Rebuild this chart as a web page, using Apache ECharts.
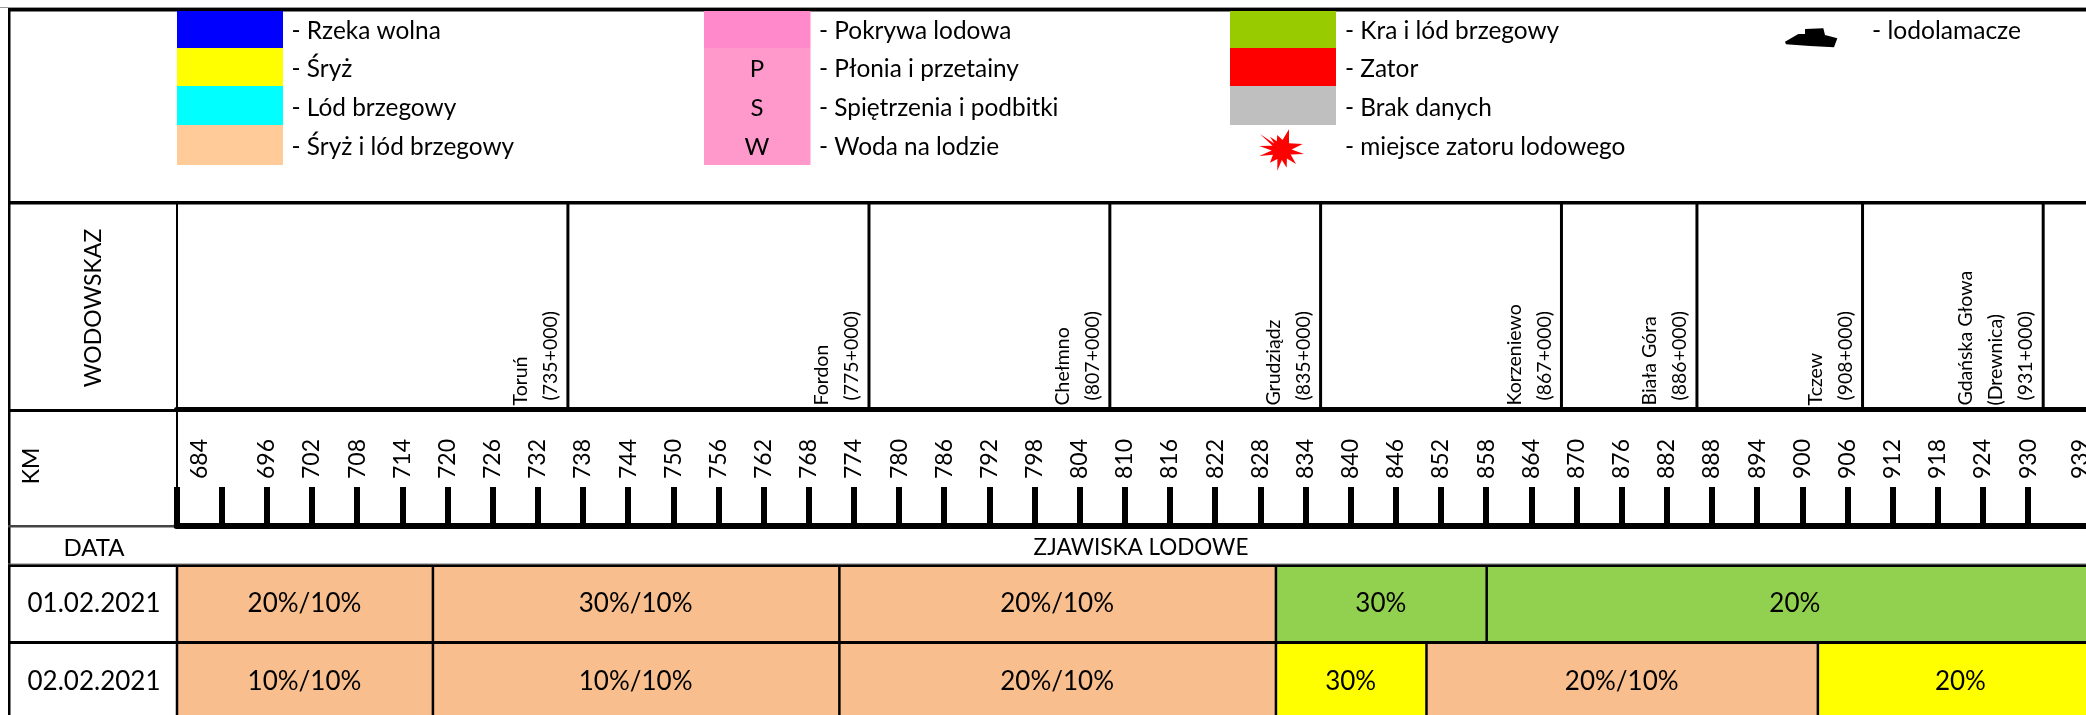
<!DOCTYPE html>
<html>
<head>
<meta charset="utf-8">
<title>Zjawiska lodowe</title>
<style>
html, body { margin: 0; padding: 0; background: #fff; }
#chart { width: 2086px; height: 715px; }
</style>
</head>
<body>
<div id="chart"></div>
<script src="https://cdn.jsdelivr.net/npm/echarts@6/dist/echarts.min.js"></script>
<script>
var FONT = 'Lato';

// km of the river, ticks and their printed labels
var tickKm = [684, 690, 696, 702, 708, 714, 720, 726, 732, 738, 744, 750, 756, 762, 768, 774, 780, 786, 792, 798, 804,
    810, 816, 822, 828, 834, 840, 846, 852, 858, 864, 870, 876, 882, 888, 894, 900, 906, 912, 918, 924, 930];
var labelKm = [687, 696, 702, 708, 714, 720, 726, 732, 738, 744, 750, 756, 762, 768, 774, 780, 786, 792, 798, 804,
    810, 816, 822, 828, 834, 840, 846, 852, 858, 864, 870, 876, 882, 888, 894, 900, 906, 912, 918, 924, 930, 937];
var labelText = ['684', '696', '702', '708', '714', '720', '726', '732', '738', '744', '750', '756', '762', '768', '774',
    '780', '786', '792', '798', '804', '810', '816', '822', '828', '834', '840', '846', '852', '858', '864', '870', '876',
    '882', '888', '894', '900', '906', '912', '918', '924', '930', '939'];

// gauges
var stationKm = [736, 776, 808, 836, 868, 886, 908, 932];
var stationText = ['Toruń\n (735+000)', 'Fordon\n (775+000)', 'Chełmno\n (807+000)', 'Grudziądz\n (835+000)',
    'Korzeniewo\n (867+000)', 'Biała Góra\n (886+000)', 'Tczew\n (908+000)', 'Gdańska Głowa\n(Drewnica)\n (931+000)'];

// ice phenomena per day
var dates = ['01.02.2021', '02.02.2021'];
var dayOneEdges = [684, 718, 772, 830, 858, 940];
var dayOneTypes = ['mixed', 'mixed', 'mixed', 'floe', 'floe'];
var dayOneText = ['20%/10%', '30%/10%', '20%/10%', '30%', '20%'];
var dayTwoEdges = [684, 718, 772, 830, 850, 902, 940];
var dayTwoTypes = ['mixed', 'mixed', 'mixed', 'frazil', 'mixed', 'frazil'];
var dayTwoText = ['10%/10%', '10%/10%', '20%/10%', '30%', '20%/10%', '20%'];
var typeColors = { mixed: '#F8BE8D', floe: '#92D050', frazil: '#FFFF00' };

// legend
var legendOneText = ['- Rzeka wolna', '- Śryż', '- Lód brzegowy', '- Śryż i lód brzegowy'];
var legendOneColors = ['#0000FF', '#FFFF00', '#00FFFF', '#FFCC99'];
var legendTwoText = ['- Pokrywa lodowa', '- Płonia i przetainy', '- Spiętrzenia i podbitki', '- Woda na lodzie'];
var legendTwoColors = ['#FF89CA', '#FF99CC', '#FF99CC', '#FF99CC'];
var legendTwoMarks = ['', 'P', 'S', 'W'];
var legendThreeText = ['- Kra i lód brzegowy', '- Zator', '- Brak danych', '- miejsce zatoru lodowego'];
var legendThreeColors = ['#99CC00', '#FF0000', '#BFBFBF'];

var X_LEFT = 176.5;
var X_WIDTH = 1926.9; // runs past the right edge of the page, as in the source
var legendTop = [11, 48, 86, 125, 165];
var legendTextY = [31, 69, 108, 147];

function rect(x, y, w, h, fill) {
    return { type: 'rect', shape: { x: x, y: y, width: w, height: h }, style: { fill: fill }, z: 100 };
}
function label(text, x, y, size, rotated, align) {
    return {
        type: 'text', x: x, y: y, rotation: rotated ? Math.PI / 2 : 0, z: 101,
        style: { text: text, fill: '#000', font: size + 'px ' + FONT, textAlign: align || 'center', textVerticalAlign: 'middle' }
    };
}

var star = [[207, 28], [248, 72], [252, 102], [228, 132], [200, 143], [172, 152], [150, 128], [118, 108], [118, 78], [120, 42], [150, 50], [172, 45]];
function starPoints() {
    var cx = 1281.7, cy = 150, pts = [];
    for (var i = 0; i < star.length; i++) {
        var tip = [1220 + star[i][0] / 3, 120 + star[i][1] / 3];
        var next = [1220 + star[(i + 1) % star.length][0] / 3, 120 + star[(i + 1) % star.length][1] / 3];
        pts.push(tip);
        var a = Math.atan2(tip[1] + next[1] - 2 * cy, tip[0] + next[0] - 2 * cx);
        pts.push([cx + 10 * Math.cos(a), cy + 10 * Math.sin(a)]);
    }
    return pts;
}
var ship = [[75, 95], [115, 72], [135, 72], [135, 57], [190, 55], [195, 75], [232, 85], [222, 112], [150, 108], [78, 103]];
function shipPoints() {
    return ship.map(function (p) { return [1760 + p[0] / 3, 10 + p[1] / 3]; });
}

function frame() {
    var els = [
        rect(0, 7, 2086, 1, '#999'),
        rect(8, 8, 2078, 3.5, '#000'),
        rect(8, 8, 2.5, 707, '#000'),
        rect(8, 201, 2078, 3.5, '#000'),
        rect(8, 409, 170, 3, '#000'),
        rect(8, 525, 166, 2.5, '#444'),
        rect(8, 563.5, 2078, 1.2, '#777'),
        rect(8, 564.5, 2078, 2.5, '#000'),
        rect(8, 641, 2078, 3, '#000'),
        rect(176, 204, 2, 323, '#000'),
        label('WODOWSKAZ', 94, 308, 23, true),
        label('KM', 32, 466, 23, true),
        label('DATA', 94, 548, 24),
        label('ZJAWISKA LODOWE', 1141, 548, 22.5)
    ];
    var i;
    for (i = 0; i < 4; i++) {
        els.push(rect(177, legendTop[i], 106, legendTop[i + 1] - legendTop[i], legendOneColors[i]));
        els.push(label(legendOneText[i], 291.5, legendTextY[i], 24.4, false, 'left'));
        els.push(rect(704, legendTop[i], 106.5, legendTop[i + 1] - legendTop[i], legendTwoColors[i]));
        els.push(label(legendTwoMarks[i], 757, legendTextY[i], 24));
        els.push(label(legendTwoText[i], 819, legendTextY[i], 24.4, false, 'left'));
        if (i < 3) els.push(rect(1230, legendTop[i], 106, legendTop[i + 1] - legendTop[i], legendThreeColors[i]));
        els.push(label(legendThreeText[i], 1345, legendTextY[i], 24.4, false, 'left'));
    }
    els.push({ type: 'polygon', shape: { points: starPoints() }, style: { fill: '#FF0000' }, z: 100 });
    els.push({ type: 'polygon', shape: { points: shipPoints() }, style: { fill: '#000' }, z: 100 });
    els.push(label('- lodolamacze', 1872, 31, 24.6, false, 'left'));
    return els;
}

function segments(row, edges, types, texts) {
    var out = [];
    for (var i = 0; i < types.length; i++) {
        out.push({ value: [edges[i], edges[i + 1], row], type: types[i], text: texts[i] });
    }
    return out;
}
var iceData = segments(0, dayOneEdges, dayOneTypes, dayOneText).concat(segments(1, dayTwoEdges, dayTwoTypes, dayTwoText));

function renderIce(params, api) {
    var item = iceData[params.dataIndex];
    var a = api.coord([api.value(0), api.value(2)]);
    var b = api.coord([api.value(1), api.value(2)]);
    var h = api.size([0, 1])[1];
    return {
        type: 'group',
        children: [
            { type: 'rect', shape: { x: a[0], y: a[1] - h / 2, width: b[0] - a[0], height: h }, style: { fill: typeColors[item.type] } },
            { type: 'line', shape: { x1: a[0] + 0.5, y1: a[1] - h / 2, x2: a[0] + 0.5, y2: a[1] + h / 2 }, style: { stroke: '#000', lineWidth: 2.5 } },
            { type: 'text', x: (a[0] + b[0]) / 2, y: a[1], style: { text: item.text, fill: '#000', font: '26px ' + FONT, textAlign: 'center', textVerticalAlign: 'middle' } }
        ]
    };
}

function renderStation(params, api) {
    var p = api.coord([api.value(0), 0]);
    var top = api.coord([api.value(0), 1]);
    return {
        type: 'group',
        children: [
            { type: 'line', shape: { x1: p[0], y1: top[1], x2: p[0], y2: p[1] }, style: { stroke: '#000', lineWidth: 3 } },
            {
                type: 'text', x: p[0] - 2, y: p[1] - 4, rotation: Math.PI / 2,
                style: { text: stationText[params.dataIndex], fill: '#000', font: '19.5px ' + FONT, lineHeight: 30, textAlign: 'left', textVerticalAlign: 'bottom' }
            }
        ]
    };
}

function hiddenX(gridIndex) {
    return { type: 'value', gridIndex: gridIndex, min: 684, max: 940, show: false };
}

var chart = echarts.init(document.getElementById('chart'), null, { renderer: 'canvas' });
chart.setOption({
    animation: false,
    backgroundColor: '#fff',
    textStyle: { fontFamily: FONT },
    graphic: frame(),
    grid: [
        { left: X_LEFT, top: 204, width: X_WIDTH, height: 205.5, outerBoundsMode: 'none' },
        { left: X_LEFT, top: 412, width: X_WIDTH, height: 114, outerBoundsMode: 'none' },
        { left: X_LEFT, top: 565, width: X_WIDTH, height: 156, outerBoundsMode: 'none' }
    ],
    xAxis: [
        {
            type: 'value', gridIndex: 0, min: 684, max: 940,
            axisLine: { show: true, lineStyle: { color: '#000', width: 5 } },
            axisTick: { show: false }, axisLabel: { show: false }, splitLine: { show: false }
        },
        {
            type: 'value', gridIndex: 1, min: 684, max: 940,
            axisLine: { show: true, lineStyle: { color: '#000', width: 6 } },
            axisTick: { show: true, inside: true, length: 39, customValues: tickKm, lineStyle: { color: '#000', width: 6 } },
            axisLabel: {
                show: true, inside: true, rotate: 90, margin: 47, color: '#000', fontFamily: FONT, fontSize: 23,
                customValues: labelKm,
                formatter: function (v) { return labelText[labelKm.indexOf(v)]; }
            },
            splitLine: { show: false }
        },
        hiddenX(2)
    ],
    yAxis: [
        { type: 'value', gridIndex: 0, min: 0, max: 1, show: false },
        { type: 'value', gridIndex: 1, min: 0, max: 1, show: false },
        {
            type: 'category', gridIndex: 2, data: dates, inverse: true,
            axisLine: { show: false }, axisTick: { show: false },
            axisLabel: { show: true, margin: 82.5, align: 'center', color: '#000', fontFamily: FONT, fontSize: 26 }
        }
    ],
    series: [
        {
            type: 'custom', name: 'Wodowskazy', xAxisIndex: 0, yAxisIndex: 0, clip: false,
            renderItem: renderStation,
            data: stationKm.map(function (km) { return [km]; }),
            encode: { x: 0 }
        },
        {
            type: 'custom', name: 'Zjawiska lodowe', xAxisIndex: 2, yAxisIndex: 2, clip: false,
            renderItem: renderIce,
            data: iceData,
            encode: { x: [0, 1], y: 2 }
        }
    ]
});
</script>
</body>
</html>
